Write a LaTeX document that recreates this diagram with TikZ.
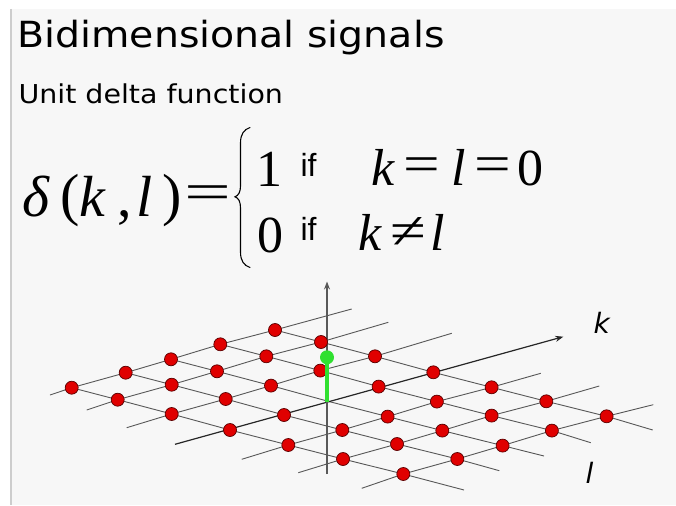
\documentclass[tikz,border=0pt]{standalone}
\usepackage{fontspec}
\usepackage{graphicx}
\usetikzlibrary{arrows.meta}
\newfontfamily\titlefont[FakeStretch=1.095]{DejaVu Sans}
\newfontfamily\labfont{DejaVu Sans}
\newfontfamily\mserif{Liberation Serif}
\newfontfamily\ifsans{Liberation Sans}
\definecolor{panel}{HTML}{F7F7F7}
\definecolor{borderc}{HTML}{CDCDCD}
\definecolor{gridc}{HTML}{585858}
\definecolor{dotred}{HTML}{E00000}
\definecolor{dotedge}{HTML}{5A0000}
\definecolor{dotgreen}{HTML}{30E030}
\tikzset{
  txt/.style={anchor=base west, inner sep=0pt, outer sep=0pt},
  sym/.style={anchor=center, inner sep=0pt, outer sep=0pt},
  gridline/.style={draw=gridc, line width=0.9pt, line join=round},
  kaxis/.style={draw=black!85, line width=1.2pt, -{Stealth[length=8pt,width=6pt]}},
  vaxis/.style={draw=black!65, line width=1.5pt, -{Stealth[length=8pt,width=6pt]}},
  reddot/.style={circle, minimum size=13pt, inner sep=0pt, fill=dotred, draw=dotedge, line width=0.7pt},
  greendot/.style={circle, minimum size=14pt, inner sep=0pt, fill=dotgreen},
  stem/.style={draw=dotgreen, line width=3.2pt}
}
\newcommand{\mathfs}{\mserif\fontsize{52}{56}\selectfont}
\newcommand{\mathbig}{\mserif\fontsize{58}{62}\selectfont}
\begin{document}
\begin{tikzpicture}[x=1pt,y=-1pt]
\useasboundingbox (0,0) rectangle (676,505);
\fill[white] (0,0) rectangle (676,505);
\fill[panel] (11,9) rectangle (676,505);
\draw[borderc, line width=2pt] (10.5,9) -- (10.5,505);

% titles
\node[txt] (title) at (17.5,47.7) {\titlefont\fontsize{36}{40}\selectfont Bidimensional signals};
\node[txt] (subtitle) at (18.5,103.3) {\titlefont\fontsize{26}{30}\selectfont Unit delta function};

% formula, left-hand side
\node[txt] (delta) at (22,216) {\mathbig\itshape δ};
\node[txt] (lpar) at (60,214) {\mathbig (};
\node[txt] (fk) at (79,216) {\mathbig\itshape k};
\node[txt] (comma) at (117,216) {\mathbig ,};
\node[txt] (fl) at (136,216) {\mathbig\itshape l};
\node[txt] (rpar) at (162,214) {\mathbig )};
\node[sym] (eq0) at (208,198) {\mathfs\scalebox{1.6}[1]{=}};
% brace
\draw[line width=1.1pt, line cap=round] (250,127.5) .. controls (244,129.5) and (240.5,134) .. (240.5,143) -- (240.5,186)
  .. controls (240.5,192) and (238.5,195.5) .. (235,196.8)
  .. controls (238.5,198) and (240.5,201.5) .. (240.5,208) -- (240.5,252)
  .. controls (240.5,261) and (244,265.5) .. (250,267.5);
% first case
\node[txt] (one) at (256.5,186.7) {\mathfs 1};
\node[txt] (if1) at (300.5,176.7) {\ifsans\fontsize{32}{36}\selectfont if};
\node[txt] (k1) at (371,185) {\mathfs\itshape k};
\node[sym] (eq1) at (421.5,170) {\mathfs\scalebox{1.25}[1]{=}};
\node[txt] (l1) at (451,185) {\mathfs\itshape l};
\node[sym] (eq2) at (493.3,170) {\mathfs\scalebox{1.25}[1]{=}};
\node[txt] (zero1) at (517,185) {\mathfs 0};
% second case
\node[txt] (zero0) at (257.5,252.5) {\mathfs 0};
\node[txt] (if2) at (300.5,240) {\ifsans\fontsize{32}{36}\selectfont if};
\node[txt] (k2) at (358.5,250) {\mathfs\itshape k};
\node[sym] (neq) at (408.5,233) {\mathfs\scalebox{1.25}[1]{≠}};
\node[txt] (l2) at (430,250) {\mathfs\itshape l};

% lattice coordinates
\foreach \j in {0,...,6}{
  \foreach \i in {0,...,4}{
    \pgfmathsetmacro\px{71.7+{0,46,100,158.3,216.6,271.3,331.6}[\j]+{0,54,99.3,148.6,203.3}[\i]}
    \pgfmathsetmacro\py{387.7+{0,12,26.3,42.3,57.3,71.3,86.3}[\j]+{0,-15,-28.4,-43.4,-57.7}[\i]}
    \coordinate (p-\j-\i) at (\px,\py);
  }
}
% k-line ends
\coordinate (kL-0) at (50,395);     \coordinate (kR-0) at (351.7,309);
\coordinate (kL-1) at (86.7,410);   \coordinate (kR-1) at (388.3,322.3);
\coordinate (kL-2) at (126.7,427.7);\coordinate (kR-2) at (451.7,333.3);
\coordinate (kL-3) at (175,444.3);  \coordinate (kR-3) at (563.3,336.7);
\coordinate (kL-4) at (241.7,459.3);\coordinate (kR-4) at (540.7,373.3);
\coordinate (kL-5) at (298.3,472.7);\coordinate (kR-5) at (599.3,386);
\coordinate (kL-6) at (361.7,488.3);\coordinate (kR-6) at (653.3,404.7);
% l-line ends
\coordinate (lE-0) at (464,490);
\coordinate (lE-1) at (499.3,470.7);
\coordinate (lE-2) at (544,456);
\coordinate (lE-3) at (590.7,442.7);
\coordinate (lE-4) at (652.7,430);

% grid lines
\foreach \j in {0,1,2,4,5,6}{
  \draw[gridline] (kL-\j) -- (p-\j-0) -- (p-\j-1) -- (p-\j-2) -- (p-\j-3) -- (p-\j-4) -- (kR-\j);
}
\foreach \i in {0,...,4}{
  \draw[gridline] (p-0-\i) -- (p-1-\i) -- (p-2-\i) -- (p-3-\i) -- (p-4-\i) -- (p-5-\i) -- (p-6-\i) -- (lE-\i);
}
% axes
\draw[kaxis] (kL-3) -- (kR-3);
\coordinate (vB) at (327,474);
\coordinate (vT) at (327,281.5);
\draw[vaxis] (vB) -- (vT);

% red dots
\foreach \j in {0,...,6}{
  \foreach \i in {0,...,4}{
    \ifnum\j=3 \ifnum\i=2 \else \node[reddot] (d-\j-\i) at (p-\j-\i) {}; \fi
    \else \node[reddot] (d-\j-\i) at (p-\j-\i) {}; \fi
  }
}
% delta sample
\coordinate (o) at (327,401.6);
\node[greendot] (g) at (327,357.3) {};
\draw[stem] (o) -- (g.center);

% axis labels
\node[txt] (klab) at (593.5,333.3) {\labfont\itshape\fontsize{28}{32}\selectfont k};
\node[txt] (llab) at (585.5,483.3) {\labfont\itshape\fontsize{28}{32}\selectfont l};
\end{tikzpicture}
\end{document}
